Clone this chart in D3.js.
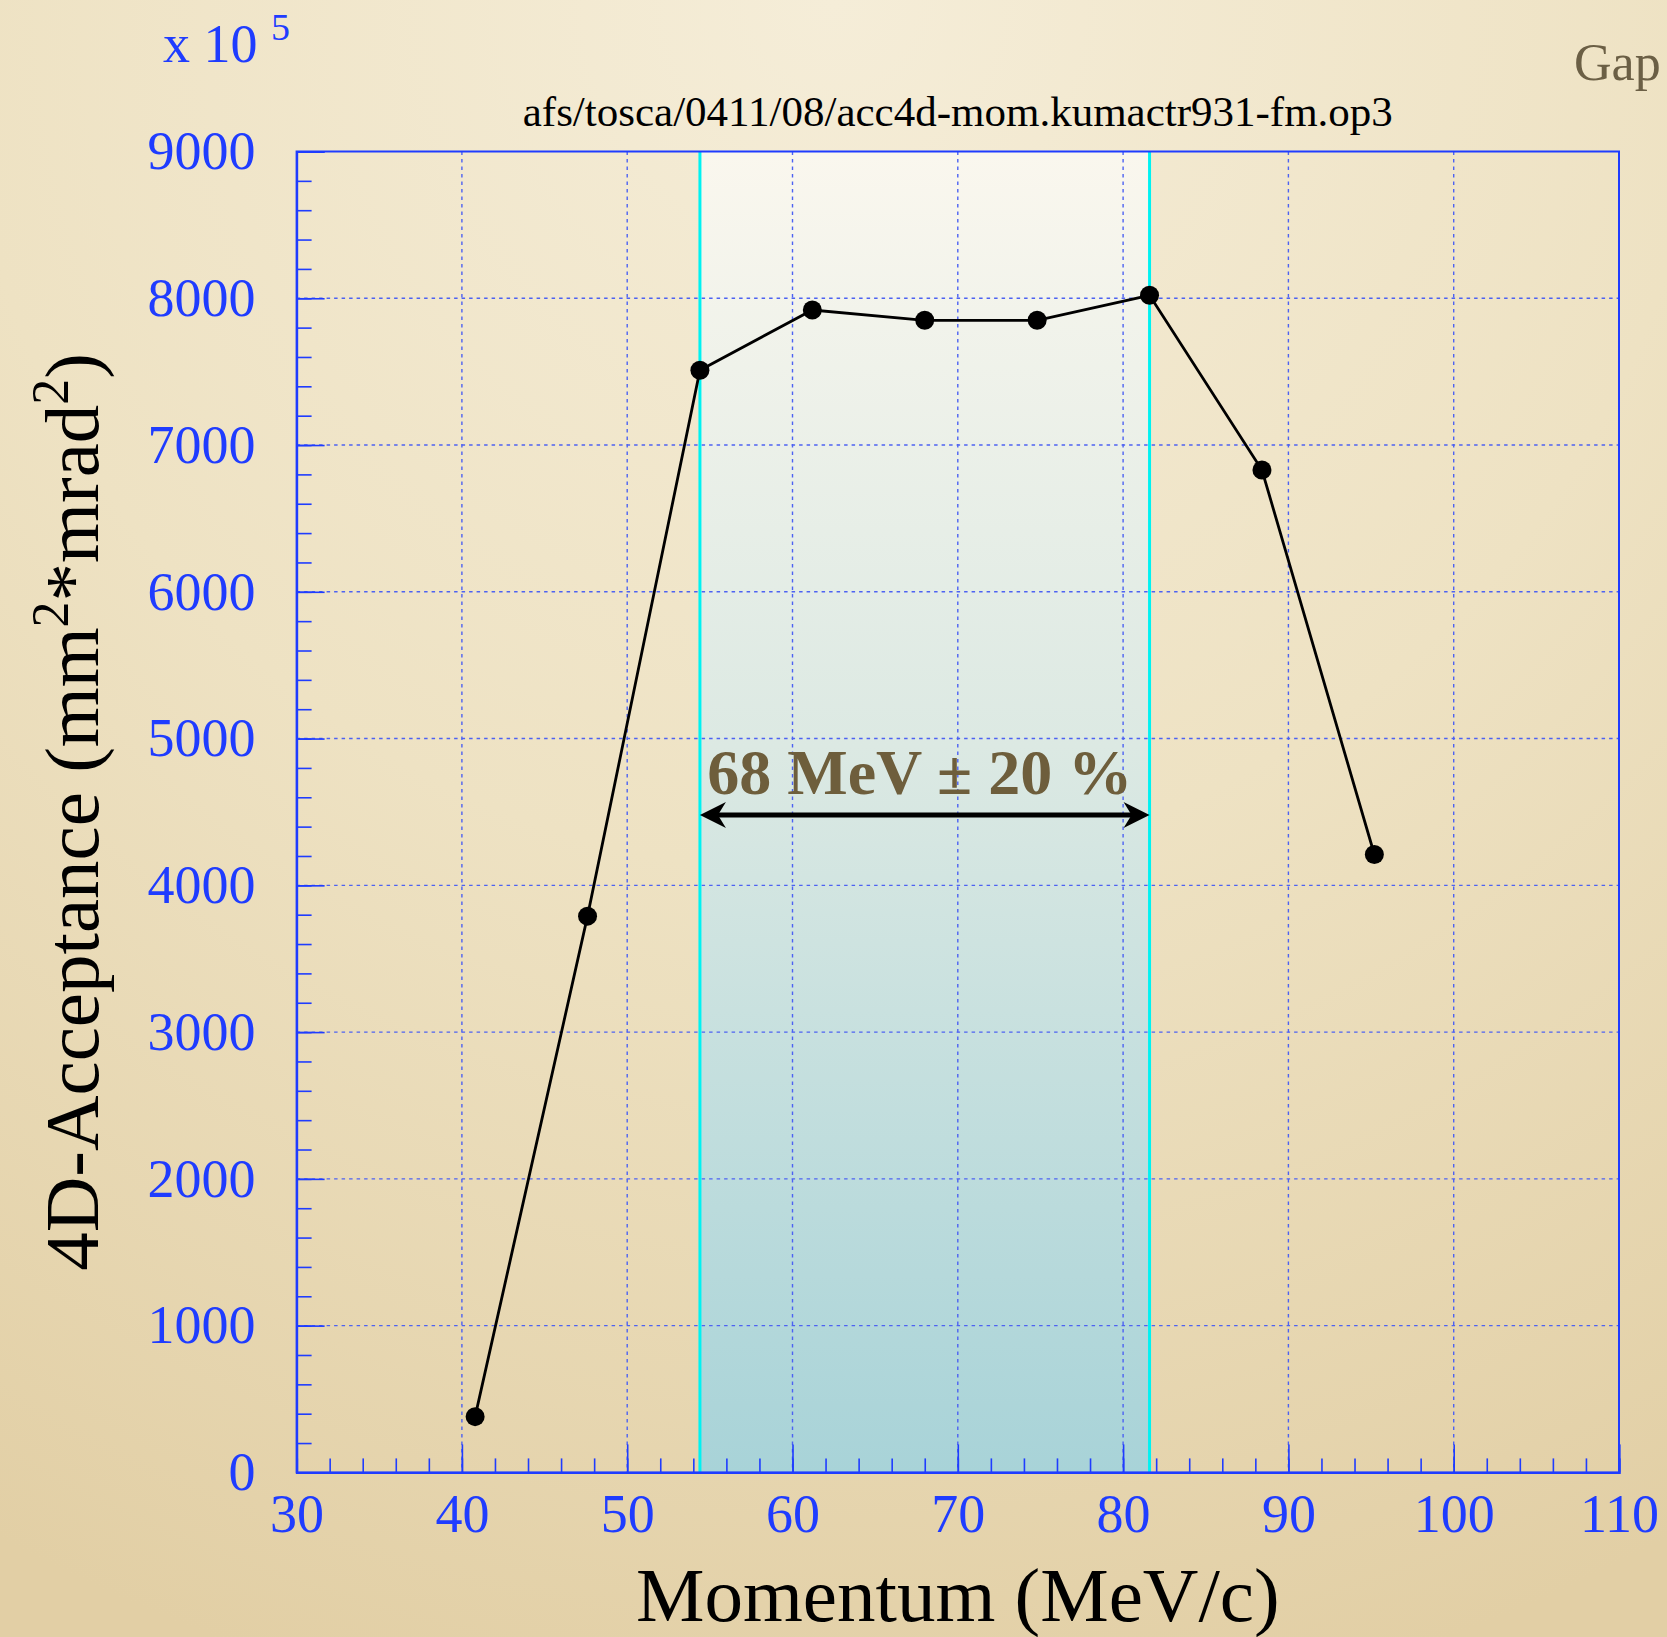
<!DOCTYPE html>
<html>
<head>
<meta charset="utf-8">
<script src="https://cdn.jsdelivr.net/npm/d3@7"></script>
<style>
  html, body { margin: 0; padding: 0; overflow: hidden; }
  svg { display: block; }
</style>
</head>
<body>
<script>
// Momentum scan of the 4D acceptance (values in units of 1e5 mm^2*mrad^2)
const momentum   = [40.8, 47.6, 54.4, 61.2, 68.0, 74.8, 81.6, 88.4, 95.2];
const acceptance = [380, 3790, 7510, 7920, 7850, 7850, 8020, 6830, 4210];

// Axis ranges and tick labels
const xDomain = [30, 110];
const yDomain = [0, 9000];
const xTickLabels = [30, 40, 50, 60, 70, 80, 90, 100, 110];
const yTickLabels = [0, 1000, 2000, 3000, 4000, 5000, 6000, 7000, 8000, 9000];

// Design momentum window: 68 MeV +- 20 %
const centralMomentum = 68;
const windowFraction = 0.20;
const arrowLevel = 4480;

const W = 1667, H = 1637;
const frame = { left: 296.6, right: 1619, top: 151.5, bottom: 1472.4 };

const svg = d3.select("body").append("svg")
  .attr("width", W).attr("height", H);

const defs = svg.append("defs");
const bg = defs.append("radialGradient").attr("id", "paper")
  .attr("gradientUnits", "userSpaceOnUse")
  .attr("cx", W / 2).attr("cy", 0).attr("r", 1750);
bg.append("stop").attr("offset", 0).attr("stop-color", "#f5edd8");
bg.append("stop").attr("offset", 0.5).attr("stop-color", "#eee2c3");
bg.append("stop").attr("offset", 1).attr("stop-color", "#e2cfa5");

const band = defs.append("linearGradient").attr("id", "band")
  .attr("x1", 0).attr("y1", 0).attr("x2", 0).attr("y2", 1);
band.append("stop").attr("offset", 0).attr("stop-color", "#faf7ee");
band.append("stop").attr("offset", 0.45).attr("stop-color", "#dce9e3");
band.append("stop").attr("offset", 1).attr("stop-color", "#a8d3d8");

svg.append("rect").attr("width", W).attr("height", H).attr("fill", "url(#paper)");

const x = d3.scaleLinear().domain(xDomain).range([frame.left, frame.right]);
const y = d3.scaleLinear().domain(yDomain).range([frame.bottom, frame.top]);

const blue = "#1f3cff";
const serif = "'Liberation Serif', 'Times New Roman', serif";

// Shaded momentum window
const lo = centralMomentum * (1 - windowFraction);
const hi = centralMomentum * (1 + windowFraction);
svg.append("rect")
  .attr("x", x(lo)).attr("y", y(yDomain[1]))
  .attr("width", x(hi) - x(lo)).attr("height", y(yDomain[0]) - y(yDomain[1]))
  .attr("fill", "url(#band)");

// Dotted grid at the major ticks
const grid = svg.append("g").attr("stroke", "#4d62f2").attr("stroke-width", 1.4)
  .attr("stroke-dasharray", "3.5,4");
grid.selectAll(".gx").data(xTickLabels.slice(1, -1)).join("line")
  .attr("x1", d => x(d)).attr("x2", d => x(d))
  .attr("y1", frame.top).attr("y2", frame.bottom);
grid.selectAll(".gy").data(yTickLabels.slice(1, -1)).join("line")
  .attr("x1", frame.left).attr("x2", frame.right)
  .attr("y1", d => y(d)).attr("y2", d => y(d));

// Window edges
svg.append("g").attr("stroke", "#00f2f2").attr("stroke-width", 3)
  .selectAll("line").data([lo, hi]).join("line")
  .attr("x1", d => x(d)).attr("x2", d => x(d))
  .attr("y1", frame.top).attr("y2", frame.bottom);

// Frame
svg.append("rect")
  .attr("x", frame.left).attr("y", frame.top)
  .attr("width", frame.right - frame.left).attr("height", frame.bottom - frame.top)
  .attr("fill", "none").attr("stroke", blue).attr("stroke-width", 2);

function styleAxis(g) {
  g.select(".domain").attr("stroke", blue).attr("stroke-width", 2);
  g.selectAll(".tick line").attr("stroke", blue).attr("stroke-width", 1.6);
  g.selectAll(".tick text").attr("fill", blue)
    .attr("font-family", serif).attr("font-size", 54);
}

// Minor ticks
svg.append("g").attr("transform", `translate(0,${frame.bottom})`)
  .call(d3.axisBottom(x).tickValues(d3.range(30, 110.01, 2)).tickSize(-14).tickFormat(""))
  .call(styleAxis);
svg.append("g").attr("transform", `translate(${frame.left},0)`)
  .call(d3.axisLeft(y).tickValues(d3.range(0, 9000.01, 200)).tickSize(-15).tickFormat(""))
  .call(styleAxis);

// Major ticks with labels
svg.append("g").attr("transform", `translate(0,${frame.bottom})`)
  .call(d3.axisBottom(x).tickValues(xTickLabels).tickSize(-28).tickPadding(21).tickFormat(d3.format("d")))
  .call(styleAxis);
svg.append("g").attr("transform", `translate(${frame.left},0)`)
  .call(d3.axisLeft(y).tickValues(yTickLabels).tickSize(-28).tickPadding(41).tickFormat(d3.format("d")))
  .call(styleAxis);

// Exponent of the y axis
const expo = svg.append("text").attr("x", 163).attr("y", 62)
  .attr("font-family", serif).attr("font-size", 54).attr("fill", blue);
expo.append("tspan").text("x 10 ");
expo.append("tspan").attr("font-size", 38).attr("dy", -22).text("5");

// Data line and markers
const pts = momentum.map((m, i) => [m, acceptance[i]]);
svg.append("path").datum(pts)
  .attr("d", d3.line().x(d => x(d[0])).y(d => y(d[1])))
  .attr("fill", "none").attr("stroke", "#000").attr("stroke-width", 2.8);
svg.append("g").selectAll("circle").data(pts).join("circle")
  .attr("cx", d => x(d[0])).attr("cy", d => y(d[1])).attr("r", 9.5).attr("fill", "#000");

// Double arrow spanning the window
const ay = y(arrowLevel);
const head = 26, half = 13;
const arrow = svg.append("g");
arrow.append("line").attr("x1", x(lo) + 8).attr("x2", x(hi) - 8)
  .attr("y1", ay).attr("y2", ay).attr("stroke", "#000").attr("stroke-width", 5);
arrow.append("path").attr("fill", "#000")
  .attr("d", `M${x(lo)},${ay} L${x(lo) + head},${ay - half} L${x(lo) + head - 8},${ay} L${x(lo) + head},${ay + half} Z`);
arrow.append("path").attr("fill", "#000")
  .attr("d", `M${x(hi)},${ay} L${x(hi) - head},${ay - half} L${x(hi) - head + 8},${ay} L${x(hi) - head},${ay + half} Z`);

svg.append("text")
  .attr("x", x(centralMomentum) - 5).attr("y", ay - 21)
  .attr("text-anchor", "middle")
  .attr("font-family", serif).attr("font-weight", "bold").attr("font-size", 64)
  .attr("fill", "#6e5e3c")
  .text(`${centralMomentum} MeV ± ${Math.round(windowFraction * 100)} %`);

// Titles
svg.append("text").attr("x", (frame.left + frame.right) / 2).attr("y", 125.5)
  .attr("text-anchor", "middle").attr("font-family", serif).attr("font-size", 43)
  .attr("fill", "#000").text("afs/tosca/0411/08/acc4d-mom.kumactr931-fm.op3");

svg.append("text").attr("x", (frame.left + frame.right) / 2).attr("y", 1621)
  .attr("text-anchor", "middle").attr("font-family", serif).attr("font-size", 77)
  .attr("fill", "#000").text("Momentum (MeV/c)");

const yTitle = svg.append("text")
  .attr("transform", `translate(98,${(frame.top + frame.bottom) / 2}) rotate(-90)`)
  .attr("text-anchor", "middle").attr("font-family", serif).attr("font-size", 77)
  .attr("fill", "#000");
yTitle.append("tspan").text("4D-Acceptance (mm");
yTitle.append("tspan").attr("font-size", 52).attr("dy", -30).text("2");
yTitle.append("tspan").attr("dy", 30).text("*mrad");
yTitle.append("tspan").attr("font-size", 52).attr("dy", -30).text("2");
yTitle.append("tspan").attr("dy", 30).text(")");

// Slide heading fragment at the top right
svg.append("text").attr("x", 1574).attr("y", 80)
  .attr("font-family", serif).attr("font-size", 52).attr("fill", "#6b5f45")
  .text("Gap");
</script>
</body>
</html>
